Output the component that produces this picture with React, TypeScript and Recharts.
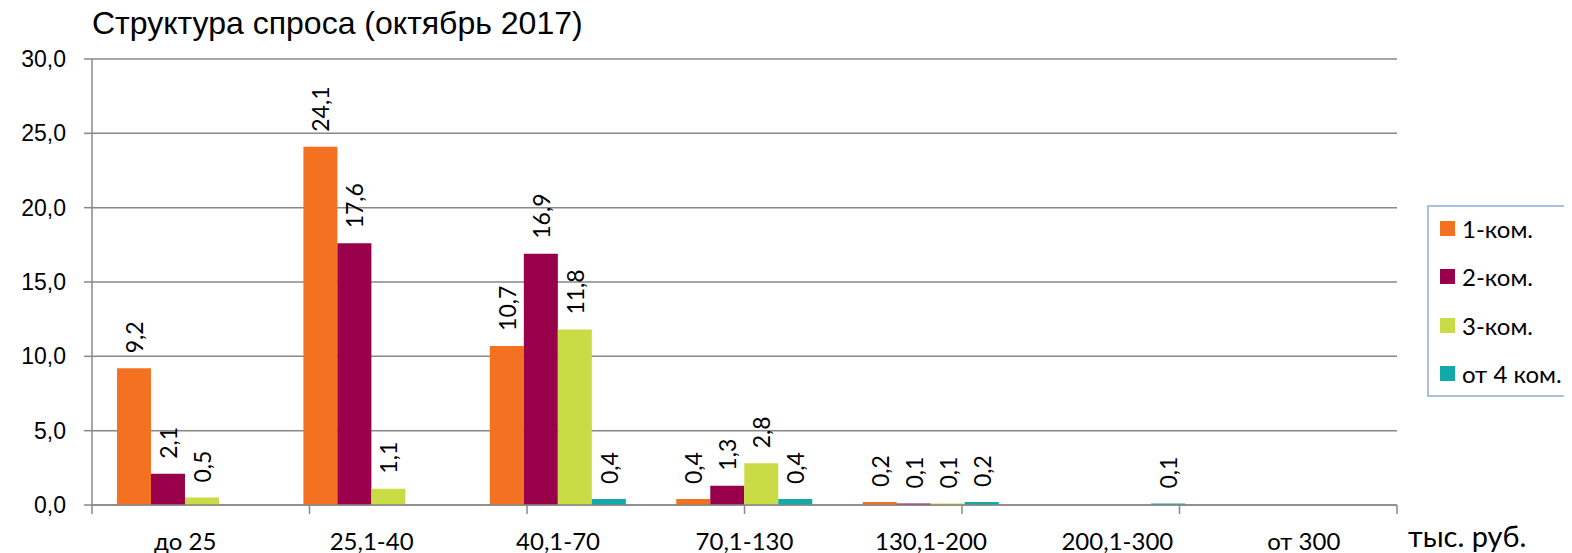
import { Bar, BarChart, CartesianGrid, LabelList, Legend, XAxis, YAxis } from "recharts";

const categories = ["до 25", "25,1-40", "40,1-70", "70,1-130", "130,1-200", "200,1-300", "от 300"];
const oneRoom = [9.2, 24.1, 10.7, 0.4, 0.2, null, null];
const twoRoom = [2.1, 17.6, 16.9, 1.3, 0.1, null, null];
const threeRoom = [0.5, 1.1, 11.8, 2.8, 0.1, null, null];
const fourPlus = [null, null, 0.4, 0.4, 0.2, 0.1, null];
const yTicks = [0, 5, 10, 15, 20, 25, 30];
const edgeTicks = [0, 1, 2, 3, 4, 5, 6, 7];

const series = [
  { key: "one", name: "1-ком.", color: "#F47121", values: oneRoom },
  { key: "two", name: "2-ком.", color: "#99004C", values: twoRoom },
  { key: "three", name: "3-ком.", color: "#C9DB45", values: threeRoom },
  { key: "four", name: "от 4 ком.", color: "#12A9A9", values: fourPlus },
];

const data = categories.map((category, i) => {
  const row: Record<string, string | number | null> = { category };
  series.forEach((s) => {
    row[s.key] = s.values[i];
  });
  return row;
});

const fmt = (v: number) => v.toFixed(1).replace(".", ",");
const gray = "#888888";
const calibriLike = "Lato, 'Open Sans', sans-serif";
const arialLike = "'Liberation Sans', Arial, sans-serif";

const ValueLabel = (props: any) => {
  const { x, y, width, value } = props;
  if (value === null || value === undefined) return null;
  const cx = Number(x) + Number(width) / 2;
  const ty = Number(y) - 15;
  return (
    <text
      x={cx}
      y={ty}
      transform={`rotate(-90 ${cx} ${ty})`}
      textAnchor="start"
      dominantBaseline="central"
      fontFamily={calibriLike}
      fontSize={23}
      fill="#000"
    >
      {fmt(Number(value))}
    </text>
  );
};

const CategoryTick = ({ x, y, payload }: any) => (
  <text x={x} y={y + 36} dy="0.35em" textAnchor="middle" fontFamily={calibriLike} fontSize={24} fill="#000">
    {payload.value}
  </text>
);

const LegendBox = () => (
  <div
    style={{
      border: "2px solid #A9C1DF",
      background: "#fff",
      height: 192,
      boxSizing: "border-box",
    }}
  >
    <div style={{ marginTop: -3 }}>
      {series.map((s) => (
        <div key={s.key} style={{ display: "flex", alignItems: "center", height: 48.5, paddingLeft: 11 }}>
          <span style={{ width: 15, height: 15, background: s.color, marginRight: 7, flex: "none" }} />
          <span style={{ fontFamily: calibriLike, fontSize: 24, color: "#000", whiteSpace: "nowrap" }}>{s.name}</span>
        </div>
      ))}
    </div>
  </div>
);

export default function App() {
  return (
    <div style={{ position: "relative", width: 1556, height: 545 }}>
      <div
        style={{
          position: "absolute",
          left: 84,
          top: 0,
          lineHeight: "30px",
          fontFamily: arialLike,
          fontSize: 32,
          color: "#000",
          whiteSpace: "nowrap",
        }}
      >
        Структура спроса (октябрь 2017)
      </div>
      <BarChart
        width={1556}
        height={545}
        data={data}
        margin={{ top: 51, right: 167, bottom: 18, left: 24 }}
        barCategoryGap="13.4%"
        barGap={0}
      >
        <CartesianGrid vertical={false} stroke={gray} strokeWidth={1.5} xAxisId="b_cat" />
        <XAxis
          xAxisId="a_edge"
          type="number"
          domain={[0, 7]}
          allowDataOverflow
          ticks={edgeTicks}
          tickSize={9}
          tickFormatter={() => ""}
          height={1}
          stroke={gray}
          strokeWidth={1.5}
        />
        <XAxis
          xAxisId="b_cat"
          dataKey="category"
          interval={0}
          tickLine={false}
          axisLine={false}
          tickSize={0}
          tickMargin={0}
          height={29}
          tick={<CategoryTick />}
        />
        <YAxis
          width={60}
          domain={[0, 30]}
          ticks={yTicks}
          tickSize={8}
          tickMargin={18}
          tickFormatter={fmt}
          stroke={gray}
          strokeWidth={1.5}
          tick={{ fill: "#000", fontSize: 23, fontFamily: arialLike }}
        />
        <Legend
          layout="vertical"
          align="center"
          verticalAlign="middle"
          wrapperStyle={{ left: 1419, top: 197, width: 145 }}
          content={<LegendBox />}
        />
        {series.map((s) => (
          <Bar key={s.key} xAxisId="b_cat" dataKey={s.key} name={s.name} fill={s.color} isAnimationActive={false}>
            <LabelList dataKey={s.key} content={<ValueLabel />} />
          </Bar>
        ))}
      </BarChart>
      <div
        style={{
          position: "absolute",
          left: 1400,
          top: 513,
          lineHeight: "30px",
          fontFamily: calibriLike,
          fontSize: 29,
          color: "#000",
          whiteSpace: "nowrap",
        }}
      >
        тыс. руб.
      </div>
    </div>
  );
}
